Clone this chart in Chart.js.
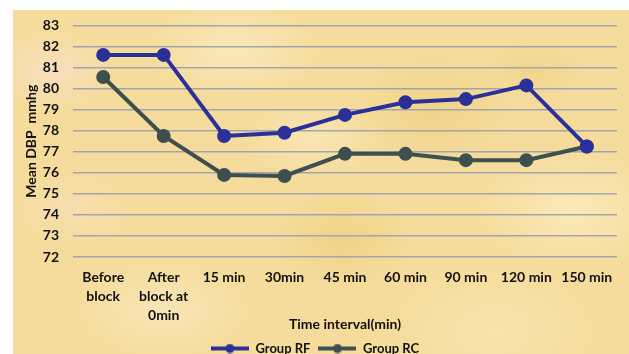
<!DOCTYPE html>
<html>
<head>
<meta charset="utf-8">
<script src="https://cdn.jsdelivr.net/npm/chart.js@4/dist/chart.umd.min.js"></script>
<style>
  html, body { margin: 0; padding: 0; background: #ffffff; width: 629px; height: 354px; overflow: hidden; }
  #bg {
    position: absolute; left: 13px; top: 10px; width: 616px; height: 344px;
    background-color: #f5dc9c;
    background-image:
      radial-gradient(ellipse 60px 40px at 40px 60px, rgba(250,225,205,0.7), rgba(250,225,205,0)),
      radial-gradient(ellipse 90px 50px at 220px 40px, rgba(252,236,195,0.8), rgba(252,236,195,0)),
      radial-gradient(ellipse 80px 60px at 420px 100px, rgba(236,204,120,0.5), rgba(236,204,120,0)),
      radial-gradient(ellipse 100px 60px at 560px 200px, rgba(252,236,190,0.8), rgba(252,236,190,0)),
      radial-gradient(ellipse 90px 50px at 150px 300px, rgba(250,232,190,0.8), rgba(250,232,190,0)),
      radial-gradient(ellipse 70px 50px at 330px 230px, rgba(236,202,118,0.5), rgba(236,202,118,0)),
      radial-gradient(ellipse 110px 70px at 480px 320px, rgba(250,230,180,0.7), rgba(250,230,180,0)),
      radial-gradient(ellipse 60px 40px at 60px 200px, rgba(248,222,180,0.8), rgba(248,222,180,0)),
      radial-gradient(ellipse 70px 40px at 300px 130px, rgba(250,234,190,0.7), rgba(250,234,190,0)),
      radial-gradient(ellipse 50px 30px at 520px 60px, rgba(238,206,125,0.5), rgba(238,206,125,0));
  }
  #wrap { position: absolute; left: 13px; top: 3px; width: 616px; height: 362px; }
</style>
</head>
<body>
<div id="bg"></div>
<div id="wrap"><canvas id="c"></canvas></div>
<script>
const categories = [["Before","block"],["After","block at","0min"],"15 min","30min","45 min","60 min","90 min","120 min","150 min"];
const groupRF = [81.6, 81.6, 77.75, 77.9, 78.75, 79.35, 79.5, 80.15, 77.25];
const groupRC = [80.55, 77.75, 75.9, 75.85, 76.9, 76.9, 76.6, 76.6, 77.25];
const yMin = 72, yMax = 83, yStep = 1;
const seriesNames = ["Group RF", "Group RC"];
const colors = ["#2b2f98", "#3d4f4f"];

function legendIcon(color) {
  const cv = document.createElement('canvas');
  cv.width = 38; cv.height = 10;
  const g = cv.getContext('2d');
  g.strokeStyle = color; g.lineWidth = 4;
  g.beginPath(); g.moveTo(0, 5); g.lineTo(38, 5); g.stroke();
  g.fillStyle = color;
  g.beginPath(); g.arc(19, 5, 4.5, 0, Math.PI * 2); g.fill();
  return cv;
}

const fam = "Lato, 'Liberation Sans', sans-serif";
const font = { family: fam, weight: 'bold', size: 14, lineHeight: 1.35 };

new Chart(document.getElementById('c'), {
  type: 'line',
  data: {
    labels: categories,
    datasets: [
      { label: seriesNames[0], data: groupRF, borderColor: colors[0], backgroundColor: colors[0],
        borderWidth: 4, pointRadius: 5, pointHoverRadius: 5, pointStyle: 'circle', tension: 0,
        legendIcon: legendIcon(colors[0]) },
      { label: seriesNames[1], data: groupRC, borderColor: colors[1], backgroundColor: colors[1],
        borderWidth: 4, pointRadius: 5, pointHoverRadius: 5, pointStyle: 'circle', tension: 0,
        legendIcon: legendIcon(colors[1]) }
    ]
  },
  options: {
    responsive: true,
    maintainAspectRatio: false,
    animation: false,
    layout: { padding: { top: 6, right: 12, left: 0, bottom: 0 } },
    plugins: {
      tooltip: { enabled: false },
      legend: {
        position: 'bottom',
        labels: {
          usePointStyle: true,
          pointStyleWidth: 38,
          boxHeight: 10,
          padding: 8,
          color: '#111',
          font: { family: fam, weight: 'bold', size: 13 },
          generateLabels(chart) {
            return chart.data.datasets.map((ds, i) => ({
              text: ds.label,
              pointStyle: ds.legendIcon,
              fillStyle: ds.borderColor,
              strokeStyle: ds.borderColor,
              lineWidth: 0,
              datasetIndex: i,
              fontColor: '#111'
            }));
          }
        }
      }
    },
    scales: {
      x: {
        offset: true,
        grid: { display: false },
        border: { display: false },
        ticks: { color: '#111', font: font, padding: 3, maxRotation: 0, autoSkip: false },
        title: { display: true, text: 'Time interval(min)', color: '#111', font: { family: fam, weight: 'bold', size: 14 }, padding: { top: 0, bottom: 1 } },
        afterFit(scale) { scale.height = 77; }
      },
      y: {
        min: yMin, max: yMax,
        ticks: { stepSize: yStep, color: '#111', font: { family: fam, weight: 'bold', size: 14 }, padding: 14 },
        grid: { color: '#a2a5ab', lineWidth: 1.5, drawTicks: false },
        border: { display: false },
        title: { display: true, text: 'Mean DBP  mmhg', color: '#111', font: { family: fam, weight: 'bold', size: 14 }, padding: { top: 10, bottom: 0 } },
        afterFit(scale) { scale.width = 60; }
      }
    }
  }
});
</script>
</body>
</html>
